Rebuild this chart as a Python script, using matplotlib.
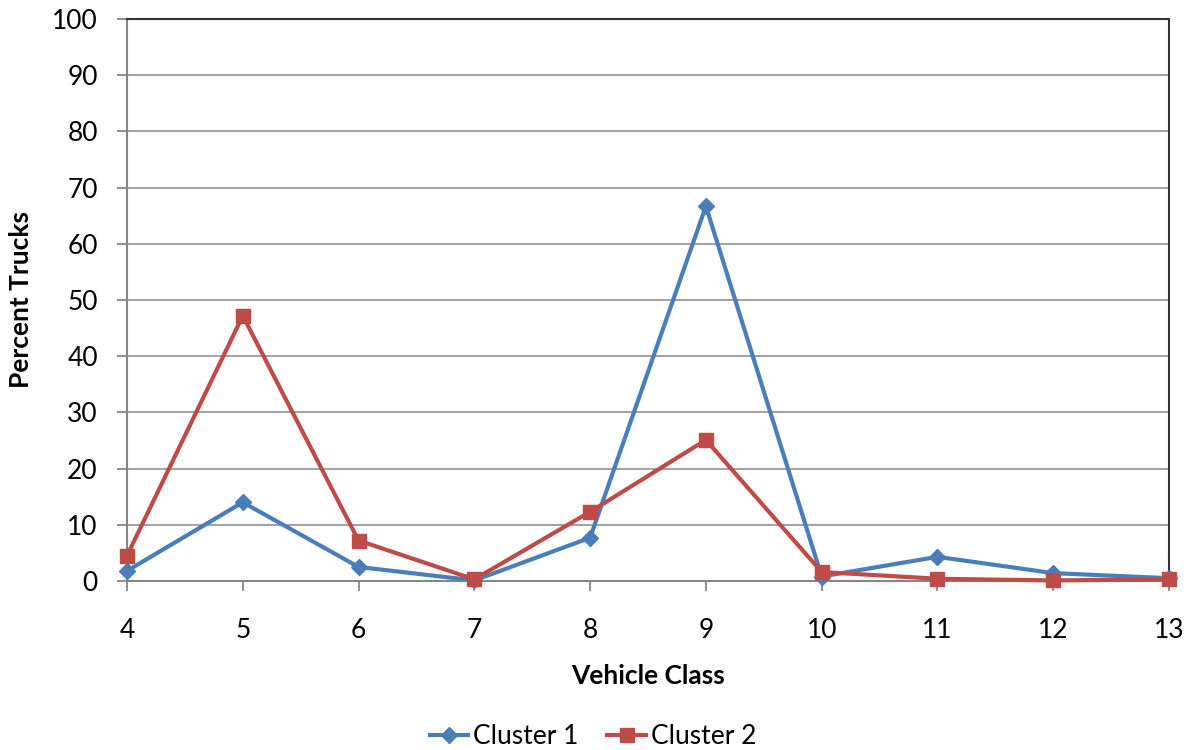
import matplotlib
matplotlib.use("Agg")
import matplotlib.pyplot as plt

vehicle_class = [4, 5, 6, 7, 8, 9, 10, 11, 12, 13]
cluster1 = [1.8, 14.0, 2.5, 0.1, 7.7, 66.7, 0.8, 4.3, 1.4, 0.5]
cluster2 = [4.5, 47.2, 7.2, 0.3, 12.3, 25.1, 1.6, 0.4, 0.1, 0.3]
y_ticks = list(range(0, 101, 10))

plt.rcParams['font.family'] = ['Lato', 'DejaVu Sans']

fig = plt.figure(figsize=(11.91, 7.5), dpi=100)
ax = fig.add_axes([127/1191, 1 - 581/750, (1169 - 127)/1191, (581 - 19)/750])

blue = '#4a7ebb'
red = '#be4b48'
ax.plot(vehicle_class, cluster1, color=blue, lw=3, marker='D', ms=8,
        label='Cluster 1', zorder=3, clip_on=False)
ax.plot(vehicle_class, cluster2, color=red, lw=3, marker='s', ms=10,
        label='Cluster 2', zorder=3, clip_on=False)

ax.set_xlim(4, 13)
ax.set_ylim(0, 100)
ax.set_xticks(vehicle_class)
ax.set_yticks(y_ticks)
ax.grid(axis='y', color='#9a9a9a', lw=1.3)
ax.set_axisbelow(True)

for s in ['top', 'right']:
    ax.spines[s].set_color('#333333')
    ax.spines[s].set_linewidth(1.5)
for s in ['left', 'bottom']:
    ax.spines[s].set_color('#868686')
    ax.spines[s].set_linewidth(1.5)

ax.tick_params(axis='both', labelsize=19, colors='#868686', labelcolor='black',
               length=7, width=1.3, direction='out')
ax.tick_params(axis='y', pad=14)
ax.tick_params(axis='x', pad=20)

ax.set_xlabel('Vehicle Class', fontsize=19, fontweight='bold', labelpad=15)
ax.set_ylabel('Percent Trucks', fontsize=19, fontweight='bold', labelpad=14)

fig.legend(loc='center', bbox_to_anchor=(593/1191, 1 - 737/750), ncol=2,
           frameon=False, fontsize=19, handlelength=1.45, columnspacing=1.1,
           handletextpad=0.2)

fig.savefig('out.png', dpi=100)
